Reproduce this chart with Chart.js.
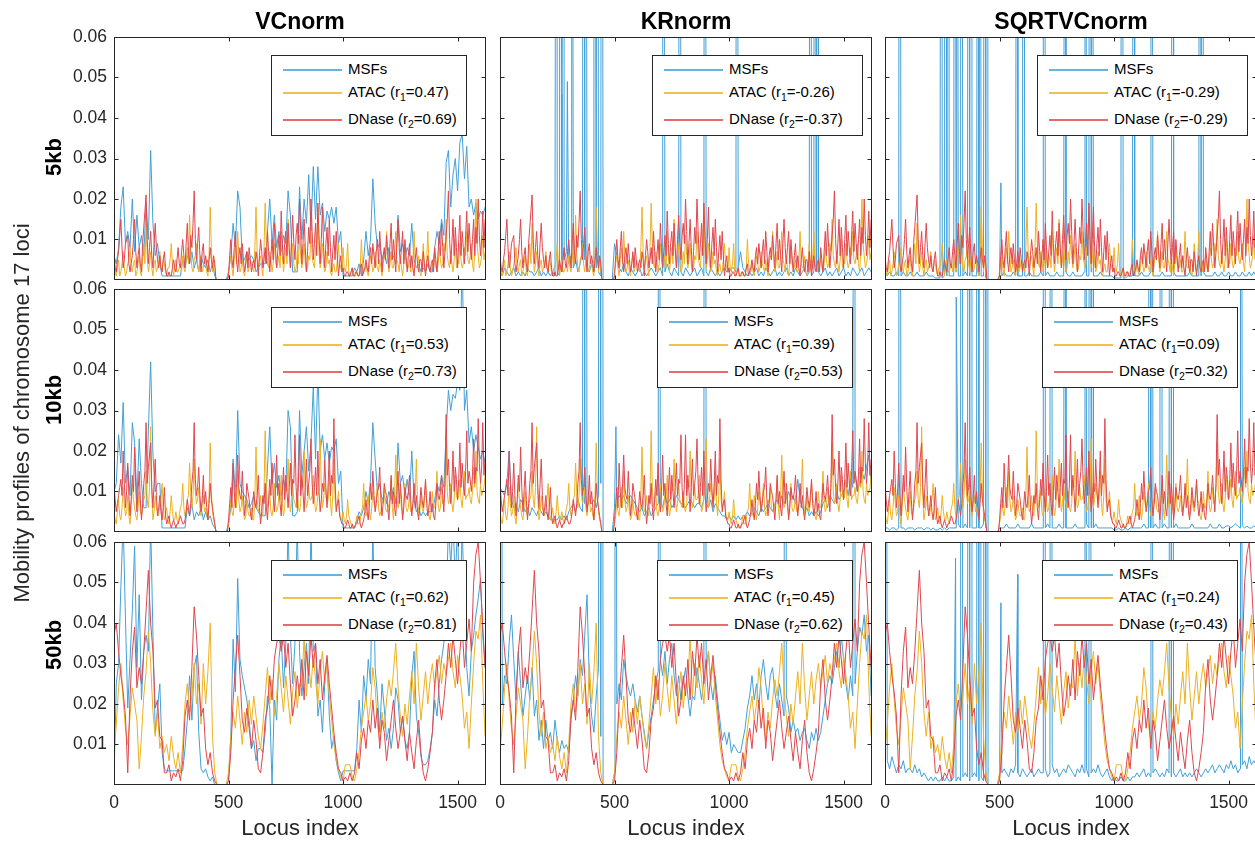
<!DOCTYPE html>
<html>
<head>
<meta charset="utf-8">
<script src="https://cdn.jsdelivr.net/npm/chart.js@4.4.1/dist/chart.umd.min.js"></script>
<style>
html, body { margin: 0; padding: 0; background: #fff; }
body { width: 1255px; height: 841px; overflow: hidden; position: relative;
  font-family: "Liberation Sans", Arial, Helvetica, sans-serif; color: #000; }
canvas { position: absolute; }
.txt { position: absolute; white-space: nowrap; line-height: 1; }
.title { font-weight: bold; font-size: 23px; text-align: center; width: 300px; }
.xlab { font-size: 22px; text-align: center; width: 300px; color: #262626; }
.rot { transform: translate(-50%, -50%) rotate(-90deg); }
.rowlab { font-weight: bold; font-size: 22px; }
.ylab { font-size: 22px; color: #262626; }
.lg { position: absolute; background: #fff; border: 1px solid #262626; box-sizing: border-box; }
.lg .ln { position: absolute; left: 11px; width: 59px; height: 2px; opacity: 0.8; }
.lg .tx { position: absolute; left: 76px; font-size: 15px; line-height: 18px; white-space: nowrap; }
.lg sub { font-size: 10.5px; vertical-align: -4px; line-height: 0; }
</style>
</head>
<body>
<script>
// locus index grid: main points every 10 loci, extra points at 5, 15, 25, ...
// all values below are in units of 1e-3
const loci = Array.from({ length: 163 }, (_, i) => i * 10);
const lociMid = Array.from({ length: 162 }, (_, j) => 5 + j * 10);
const xTickValues = [0, 500, 1000, 1500];
const yTickValues = [0.01, 0.02, 0.03, 0.04, 0.05, 0.06];
const normNames = ["VCnorm", "KRnorm", "SQRTVCnorm"];
const resNames = ["5kb", "10kb", "50kb"];
const r1Values = [[0.47, -0.26, -0.29], [0.53, 0.39, 0.09], [0.62, 0.45, 0.24]];
const r2Values = [[0.69, -0.37, -0.29], [0.73, 0.53, 0.32], [0.81, 0.62, 0.43]];

const atac5kb = [3,1,5,2,7,1,4,8,2,5, 2,6,1,9,14,2,7,1,5,3, 7,2,4,1,3,9,1,5,2,4, 6,2,8,16,3,5,9,2,6,3,
  4,1,18,2,3,0,0,0,0,0, 2,6,1,8,12,2,5,1,6,3, 4,2,18,3,6,1,19,4,7,2, 9,3,6,12,2,8,15,3,9,2,
  7,11,3,9,2,6,12,4,8,18, 3,9,2,7,5,1,4,2,9,3, 8,2,9,1,3,1,2,1,10,2, 4,1,6,2,7,3,5,1,6,12,
  2,7,3,12,4,6,1,8,3,5, 2,12,3,6,1,9,2,12,3,4, 6,2,8,3,9,15,4,7,2,10, 5,9,3,8,12,4,9,2,20,6, 4,11,7];
const atac5kbMid = [2,3,1,4,3,2,5,3,4,1, 4,2,5,4,6,4,3,4,2,4, 3,5,2,3,5,4,3,2,3,2, 3,5,4,7,2,6,4,5,2,5,
  2,6,8,5,0,0,0,0,0,0, 4,3,5,4,6,3,2,4,2,5, 3,8,7,5,3,8,9,3,5,4, 5,4,3,6,5,4,7,5,4,3,
  4,6,5,4,3,5,6,3,9,7, 5,4,3,4,2,3,2,5,4,2, 3,4,2,2,1,1,1,3,4,2, 2,3,4,3,4,2,3,4,5,5,
  4,3,6,5,2,3,4,4,3,2, 5,4,3,2,4,3,5,4,2,3, 3,4,5,4,7,6,3,4,5,3, 4,5,4,6,5,6,4,7,9,3, 6,5];
const dnase5kb = [6,2,7,15,3,9,11,2,6,15, 3,8,2,13,21,4,12,3,14,5, 6,2,7,1,2,1,5,2,8,3, 10,3,14,4,8,22,5,13,2,9,
  6,2,8,3,4,0,0,0,0,0, 1,10,3,12,2,8,9,2,7,8, 2,5,7,1,10,3,8,12,2,10, 14,3,11,17,4,12,14,3,16,5,
  14,20,4,15,2,13,20,5,14,19, 4,18,3,13,15,2,11,12,1,6, 3,1,2,1,3,1,2,1,4,2, 5,2,8,9,3,10,12,2,8,11,
  3,14,10,2,15,4,12,10,2,9, 6,1,8,2,5,7,1,6,2,5, 8,2,12,14,3,11,22,4,15,13, 3,16,12,4,17,14,5,15,13,20, 6,17,15];
const dnase5kbMid = [3,5,11,8,5,10,4,4,10,7, 6,4,9,17,10,8,6,9,8,3, 3,5,3,1,1,3,3,5,4,7, 6,9,7,11,14,10,9,6,7,4,
  4,5,5,6,0,0,0,0,0,0, 6,5,8,5,6,4,5,4,3,5, 4,3,5,6,7,5,4,7,6,5, 8,7,6,9,9,6,8,10,9,11,
  9,12,9,8,7,9,12,9,6,11, 10,8,9,6,8,7,5,6,4,2, 1,2,1,2,1,2,1,3,1,3, 3,6,4,6,7,4,7,6,5,7,
  9,5,6,9,8,8,4,6,6,3, 3,5,4,5,2,4,4,3,4,2, 5,7,6,8,7,15,10,9,6,8, 10,6,8,11,7,9,10,6,9,11, 10,8];
const atac10kb = [5,2,8,3,11,4,9,2,12,6, 3,10,4,8,15,6,26,3,9,5, 7,12,3,6,2,9,3,5,2,6, 12,4,8,17,6,18,7,11,4,9,
  6,3,22,5,2,0,0,0,0,0, 2,8,4,11,15,5,9,3,8,4, 6,3,21,5,9,4,25,6,10,4, 12,5,9,14,4,11,18,5,12,7,
  10,5,13,20,6,11,8,14,5,9, 23,6,12,7,15,4,18,6,10,3, 5,2,8,3,2,1,4,2,5,12, 4,9,3,10,6,12,4,8,11,5,
  7,13,3,19,6,10,4,12,5,9, 6,11,18,4,9,5,12,7,3,10, 6,15,5,11,8,22,7,12,5,14, 8,13,6,15,9,11,7,16,20,8, 12,10,14];
const atac10kbMid = [3,5,4,6,7,5,4,6,8,4, 6,5,6,9,8,11,9,5,6,4, 8,6,4,3,5,5,3,3,4,7, 6,5,9,10,9,10,8,6,7,5,
  4,9,10,3,0,0,0,0,0,0, 4,5,7,6,8,6,5,4,5,4, 3,9,8,6,5,10,11,7,5,6, 7,6,8,7,6,10,9,7,8,6,
  6,7,11,9,7,8,9,8,6,10, 11,8,9,8,7,9,8,7,5,3, 3,4,4,2,1,2,2,3,6,6, 5,5,6,7,8,6,5,7,6,5,
  8,6,9,9,7,6,7,6,6,5, 7,9,8,5,6,7,8,4,5,6, 8,7,6,7,11,10,8,7,8,9, 9,8,10,8,9,8,10,11,10,7, 9,11];
const dnase10kb = [12,5,9,13,20,6,17,4,14,21, 5,15,3,12,27,16,22,6,18,4, 9,3,11,2,4,1,3,1,2,4, 2,3,8,4,12,27,9,16,5,14,
  10,3,12,6,2,0,0,0,0,0, 3,11,17,6,19,9,15,4,12,8, 3,10,6,14,2,9,12,3,13,17, 5,19,12,4,16,14,6,17,13,24,
  6,24,14,5,18,12,23,7,16,20, 5,12,18,6,20,14,28,5,8,3, 2,1,3,1,2,1,2,4,1,3, 8,3,12,15,5,10,16,4,12,9,
  3,14,10,4,15,12,3,11,8,14, 4,12,9,3,11,6,13,4,10,7, 3,12,8,14,5,29,18,7,20,16, 8,22,17,9,25,15,10,23,16,28, 12,27,18];
const dnase10kbMid = [8,7,11,9,12,10,9,8,10,11, 10,8,7,15,12,19,11,12,9,6, 5,6,4,3,2,2,2,2,3,3, 2,5,6,7,15,13,11,9,8,7,
  6,7,8,4,0,0,0,0,0,0, 7,6,10,12,11,8,9,7,10,5, 6,7,9,6,5,7,6,8,9,9, 10,9,7,10,8,10,11,9,12,11,
  12,9,10,11,9,15,12,11,9,10, 8,10,11,12,9,12,13,7,4,2, 1,2,2,1,1,2,3,2,2,5, 5,7,8,9,7,11,8,7,10,6,
  8,7,6,9,7,8,6,9,10,8, 7,6,5,7,8,9,7,6,5,4, 7,9,10,9,12,14,11,12,10,13, 13,11,12,15,12,13,14,12,15,17, 16,14];
const atac50kb = [8,15,24,30,21,14,10,17,24,20, 16,4,12,22,28,38,30,18,12,18, 9,12,8,10,6,12,7,4,8,3, 10,20,25,18,22,30,20,25,15,30,
  20,28,40,12,3,0,0,0,0,0, 3,12,18,14,22,16,10,18,13,21, 15,22,17,12,9,15,22,29,20,26, 17,22,30,24,18,27,21,15,23,28,
  19,25,24,37,22,30,24,32,26,20, 28,33,25,30,22,16,10,6,4,2, 1,5,5,5,2,1,4,8,14,18, 22,16,20,29,24,15,11,18,14,21,
  26,22,28,35,24,17,12,20,15,22, 28,20,35,24,16,22,28,20,26,30, 24,28,32,25,30,27,31,35,28,24, 32,27,22,14,18,9,20,30,38,36, 42,25,12];
const dnase50kb = [37,40,33,27,23,17,3,22,33,39, 24,29,25,33,43,53,40,33,19,21, 12,11,3,3,5,1,3,2,4,1, 6,17,21,16,29,44,37,27,17,19,
  9,5,8,3,1,0,0,0,0,0, 1,8,21,29,37,27,16,13,19,14, 9,16,11,4,3,8,16,19,27,21, 31,35,37,33,37,29,35,25,17,21,
  27,22,31,21,33,27,37,29,35,25, 31,21,27,32,25,19,13,8,4,3, 1,2,1,3,1,3,8,4,11,14, 9,16,13,21,14,19,9,16,13,6,
  11,16,21,14,9,13,17,11,6,13, 8,4,11,16,8,3,1,4,8,13, 25,31,21,16,21,27,35,29,37,31, 25,33,39,29,35,41,33,50,57,60, 50,39,29];

const msfVC5kb = [6,4,8,18,23,9,12,8,20,7, 16,8,11,6,19,10,32,14,6,9, 4,1,1,1,1,1,1,1,1,1, 5,3,6,4,7,3,5,2,6,4,
  3,5,2,4,1,0,0,0,0,0, 2,6,14,8,22,18,5,5,7,5, 6,5,2,3,4,4,4,12,20,9, 16,8,12,7,11,9,22,16,2,2,
  2,23,10,20,14,26,12,28,15,28, 16,19,12,17,15,18,14,18,9,12, 1,1,1,1,1,3,2,4,1,5, 12,6,10,25,14,8,9,5,7,4,
  8,5,6,4,16,7,9,5,8,6, 14,5,3,4,2,3,2,4,2,2, 8,12,9,15,11,29,32,18,26,30, 22,34,36,25,33,18,20,16,19,15, 17,16,18];
const msfKR5kb = [2,1,3,2,1,2,3,1,2,1, 2,1,3,2,2,1,2,3,1,2, 1,2,1,2,1,2,1,2,5,7, 4,6,3,5,2,4,7,5,3,2,
  4,2,3,2,1,0,0,0,0,0, 9,6,3,2,4,2,1,3,2,1, 2,3,1,2,1,2,3,2,1,2, 3,1,2,4,2,1,3,2,1,2,
  1,3,2,1,2,3,1,2,3,1, 2,1,3,2,1,2,1,2,3,2, 2,3,3,2,3,7,3,2,1,2, 1,2,3,1,2,1,3,2,1,2,
  3,1,2,1,2,3,1,2,1,3, 2,1,2,3,1,2,1,2,3,2, 1,2,3,1,2,1,2,3,1,2, 3,1,2,1,3,2,1,2,3,1, 2,3,2];
const msfSQ5kb = [2,1,2,1,1,2,1,1,2,1, 1,2,1,1,2,1,1,1,2,1, 1,1,0.5,0.5,0.5,0.5,1,1,1,1, 1,2,1,1,1,2,1,1,1,1,
  1,1,1,1,0.5,0,0,0,0,0, 1,1,2,1,1,1,2,1,1,1, 1,1,1,2,1,1,1,1,2,1, 1,2,1,1,1,2,1,1,1,2,
  1,1,2,1,1,1,1,2,1,1, 2,1,1,1,2,1,1,1,1,1, 0.5,0.5,0.5,0.5,0.5,0.5,1,1,1,1, 1,1,2,1,1,1,2,1,1,1,
  1,2,1,1,1,1,2,1,1,1, 1,1,1,2,1,1,1,1,1,2, 1,1,1,1,2,1,1,2,1,1, 2,1,1,2,1,1,2,1,1,2, 1,2,1];
const msfVC10kb = [10,12,24,17,32,12,16,9,27,22, 8,23,12,6,6,25,42,19,10,12, 12,1,1,1,1,1,1,1,1,1, 1,1,6,4,7,3,5,4,6,3,
  5,3,4,2,1,0,0,0,0,0, 2,6,18,9,30,12,10,9,8,6, 7,9,6,5,4,4,4,16,26,12, 17,11,14,9,13,10,30,26,4,4,
  5,30,14,20,26,15,22,36,18,40, 20,24,18,22,17,21,20,23,12,15, 1,1,1,1,1,1,3,5,4,6, 10,7,13,27,18,10,12,8,9,7,
  10,8,11,7,22,12,14,9,13,8, 20,8,5,6,4,5,4,5,5,5, 8,12,10,14,11,25,35,30,34,33, 37,35,70,30,35,22,26,20,24,21, 18,20,17];
const msfKR10kb = [11,10,9,12,20,8,6,7,5,8, 7,5,6,4,6,5,4,6,5,4, 5,4,3,3,3,3,4,3,4,3, 5,6,7,5,8,6,5,7,6,8,
  7,8,6,9,12,0,0,0,0,0, 6,8,9,8,9,7,8,9,8,7, 6,5,6,4,5,6,4,5,6,7, 8,6,9,7,8,6,7,9,8,7,
  7,6,7,8,7,6,7,7,6,8, 7,6,8,5,7,6,5,4,4,3, 4,3,4,3,4,3,4,4,5,4, 5,6,5,4,6,5,6,7,6,5,
  7,8,6,9,7,8,10,8,9,7, 13,8,6,5,6,4,5,4,5,4, 5,7,8,6,9,8,7,10,8,9, 10,12,9,13,11,14,10,12,15,13, 16,19,12];
const msfSQ10kb = [1,1,0.5,1,1,0.5,1,1,1,0.5, 1,1,1,0.5,1,1,1,0.5,1,1, 0.5,1,0.5,0.5,1,0.5,1,0.5,1,1, 1,1,2,1,1,2,1,1,1,1,
  1,1,1,2,1,0,0,0,0,0, 1,1,1,2,1,1,1,1,2,1, 1,1,1,1,2,1,1,1,1,1, 1,2,1,1,1,1,2,1,1,1,
  1,1,1,2,1,1,1,1,2,1, 1,1,2,1,1,1,1,1,1,1, 0.5,0.5,1,0.5,0.5,1,0.5,1,1,1, 1,1,1,2,1,1,1,1,2,1,
  1,1,2,1,1,1,1,2,1,1, 1,1,1,1,2,1,1,1,1,1, 1,1,2,1,1,1,2,1,1,1.5, 1.5,1,1.5,2,1.5,1,1.5,1,1.5,1, 1,1.5,1];
const msfVC50kb = [1,25,30,49,65,41,19,31,43,59, 29,47,21,33,37,33,65,37,13,19, 25,8,4,3.5,3.5,3.5,3.5,3.5,3.5,3.5, 3.5,9,16,27,16,29,32,13,4,3,
  4,2,1,2,0,0,0,0,0,0, 1,12,36,23,51,31,27,24,21,16, 9,11,6,9,9,8,13,22,19,0, 21,16,31,37,24,35,65,37,25,35,
  65,33,22,29,35,25,65,33,35,17, 21,13,25,31,17,9,12,6,3,1, 3.5,3.5,3.5,3.5,3.5,3.5,9,21,13,27, 21,31,25,65,29,22,13,25,19,11,
  14,9,14,24,21,13,17,11,9,13, 27,33,17,13,7,5,5,6,9,13, 21,17,25,31,35,42,65,54,65,50, 65,37,65,42,29,22,33,37,42,46, 51,37,29];
const msfKR50kb = [5,20,27,25,35,42,31,21,33,25, 17,22,27,21,29,17,21,11,16,9, 16,11,13,9,16,11,8,11,9,10, 8,16,21,27,22,31,27,37,47,25,
  17,13,22,29,12,0,0,0,0,0, 3,20,25,21,31,27,24,22,25,21, 18,22,17,13,9,13,17,21,25,28, 31,27,33,25,31,35,27,22,27,21,
  25,29,22,17,22,21,29,25,21,26, 29,33,25,21,27,21,16,11,13,10, 13,8,10,9,8,8,11,14,19,22, 27,21,25,19,27,31,25,21,27,29,
  23,19,25,21,17,22,19,13,16,13, 14,11,13,14,11,9,13,11,14,11, 13,17,21,25,27,25,29,33,29,37, 31,25,21,27,22,25,33,39,37,42, 33,37,22];
const msfSQ50kb = [5,6,4,7,5, 3,5,4,6,3,4, 4,3,5,3,4,2,3, 2,1,2,1,2,1,1,2,1,2,1,1,2,1,2,1, 2,3,2,1,2,3,2,1,2,1,1, 0,0,0,0,0,
  2,3,4,3,2,4,3,5,3,2,4,3,2,3,4,2,3,4,3, 3,4,2,3,5,3,4,2,3,4,3,5,4,3,2,4,3,5,3,4,2,3,4,3,5,3,2,3,4,
  2,1,2,1,1,2,1,1,2,1,2,2, 3,2,3,4,2,3,2,3,4,3,2,3,2,4,3,2,3,2,3,4,2,3,2,3,2,3,4,3,2,3,4,3,
  4,5,3,4,5,4,3,5,4,6,4,5,3,4, 5,6,4,7,5,6,5];

// single-locus MSF spikes: [locus index, value]
const spikesKR5kb = [[247,300],[262,300],[269,46],[279,300],[294,49],[313,300],[366,300],[372,300],[410,300],[425,300],
  [444,300],[713,300],[785,300],[894,300],[1033,300],[1355,300],[1374,300],[1382,300],[1389,300]];
const spikesSQ5kb = [[63,300],[247,300],[262,300],[279,300],[305,300],[313,300],[332,300],[366,300],[372,300],[378,300],
  [407,300],[412,300],[436,300],[444,300],[506,24],[579,300],[605,300],[691,300],[695,300],[788,300],[873,300],[894,300],
  [902,300],[1033,300],[1088,300],[1161,300],[1258,300],[1374,300],[1386,300]];
const spikesKR10kb = [[366,300],[372,300],[433,300],[441,300],[446,300],[506,26],[691,300],[894,300],[1549,300]];
const spikesSQ10kb = [[63,300],[311,58],[332,300],[366,300],[372,300],[378,300],[400,300],[407,300],[436,300],[446,300],
  [691,300],[698,300],[724,300],[788,300],[873,300],[894,300],[902,300],[909,300],[1158,300],[1163,300],[1204,300],
  [1246,300],[1255,300],[1552,300]];
const spikesKR50kb = [[2,300],[436,300],[446,300],[502,300],[691,300],[894,300],[1246,300],[1549,300]];
const spikesSQ50kb = [[1,300],[308,56],[332,300],[366,300],[372,300],[378,300],[404,300],[412,300],[436,300],[446,300],
  [506,45],[579,52],[691,300],[698,300],[724,300],[873,300],[894,300],[1161,300],[1246,300],[1255,300],[1552,300]];

const atacByRes = [[atac5kb, atac5kbMid], [atac10kb, atac10kbMid], [atac50kb, null]];
const dnaseByRes = [[dnase5kb, dnase5kbMid], [dnase10kb, dnase10kbMid], [dnase50kb, null]];
const msfByPanel = [[msfVC5kb, msfKR5kb, msfSQ5kb], [msfVC10kb, msfKR10kb, msfSQ10kb], [msfVC50kb, msfKR50kb, msfSQ50kb]];
const spikesByPanel = [[null, spikesKR5kb, spikesSQ5kb], [null, spikesKR10kb, spikesSQ10kb], [null, spikesKR50kb, spikesSQ50kb]];

const BLUE = "#42A0D8", YELLOW = "#EDB120", RED = "#E0464E", AXIS = "#262626";
const FONT = '"Liberation Sans", Arial, Helvetica, sans-serif';

function points(vals, mids, spikes) {
  const out = vals.map((v, i) => ({ x: loci[i], y: v / 1000 }));
  (mids || []).forEach((v, j) => out.push({ x: lociMid[j], y: v / 1000 }));
  (spikes || []).forEach(([x, v]) => out.push({ x: x, y: v / 1000 }));
  return out.sort((a, b) => a.x - b.x);
}

// box with inward tick marks, like the original axes
const boxPlugin = {
  id: "box",
  afterDatasetsDraw(chart) {
    const { ctx, chartArea: a, scales } = chart;
    const l = Math.round(a.left) + 0.5, r = Math.round(a.right) - 0.5;
    const t = Math.round(a.top) + 0.5, b = Math.round(a.bottom) - 0.5;
    ctx.save();
    ctx.strokeStyle = AXIS;
    ctx.lineWidth = 1;
    ctx.strokeRect(l, t, r - l, b - t);
    ctx.beginPath();
    xTickValues.forEach((v) => {
      const px = Math.round(scales.x.getPixelForValue(v)) + 0.5;
      ctx.moveTo(px, b); ctx.lineTo(px, b - 4);
      ctx.moveTo(px, t); ctx.lineTo(px, t + 4);
    });
    yTickValues.forEach((v) => {
      const py = Math.round(scales.y.getPixelForValue(v)) + 0.5;
      ctx.moveTo(l, py); ctx.lineTo(l + 4, py);
      ctx.moveTo(r, py); ctx.lineTo(r - 4, py);
    });
    ctx.stroke();
    ctx.restore();
  },
};

const colLeft = [114, 500, 885], colW = 372;
const rowTop = [37, 289, 542], rowH = 243;
const rowLabelY = [157, 400, 645];

function addText(cls, html, style) {
  const d = document.createElement("div");
  d.className = "txt " + cls;
  d.innerHTML = html;
  Object.assign(d.style, style);
  document.body.appendChild(d);
  return d;
}

for (let r = 0; r < 3; r++) {
  for (let c = 0; c < 3; c++) {
    const showY = c === 0, showX = r === 2;
    const padL = showY ? 60 : 20, padB = showX ? 40 : 0, padT = 20, padR = 20;
    const L = colLeft[c], T = rowTop[r];
    const cv = document.createElement("canvas");
    cv.width = colW + padL + padR;
    cv.height = rowH + padT + (showX ? padB : 20);
    cv.style.left = (L - padL) + "px";
    cv.style.top = (T - padT) + "px";
    document.body.appendChild(cv);

    new Chart(cv, {
      type: "line",
      data: {
        datasets: [
          { label: "MSFs", data: points(msfByPanel[r][c], null, spikesByPanel[r][c]), borderColor: BLUE, order: 3 },
          { label: "ATAC", data: points(atacByRes[r][0], atacByRes[r][1]), borderColor: YELLOW, order: 2 },
          { label: "DNase", data: points(dnaseByRes[r][0], dnaseByRes[r][1]), borderColor: RED, order: 1 },
        ],
      },
      options: {
        responsive: false,
        animation: false,
        events: [],
        devicePixelRatio: 1,
        layout: { padding: { top: padT, right: padR, left: 0, bottom: showX ? 0 : 20 } },
        elements: { point: { radius: 0 }, line: { borderWidth: 1, tension: 0 } },
        plugins: { legend: { display: false }, tooltip: { enabled: false } },
        scales: {
          x: {
            type: "linear", min: 0, max: 1624,
            grid: { display: false, drawTicks: false },
            border: { display: false },
            ticks: { display: showX, padding: 8, maxRotation: 0, color: AXIS,
              font: { family: FONT, size: 17.5 }, callback: (v) => String(v) },
            afterBuildTicks: (s) => { s.ticks = xTickValues.map((v) => ({ value: v })); },
            afterFit: (s) => { s.height = padB; },
          },
          y: {
            min: 0, max: 0.06,
            grid: { display: false, drawTicks: false },
            border: { display: false },
            ticks: { display: showY, padding: 7, color: AXIS,
              font: { family: FONT, size: 17.5 }, callback: (v) => v.toFixed(2) },
            afterBuildTicks: (s) => { s.ticks = yTickValues.map((v) => ({ value: v })); },
            afterFit: (s) => { s.width = padL; },
          },
        },
      },
      plugins: [boxPlugin],
    });

    // legend box
    const wide = r1Values[r][c] < 0 || r2Values[r][c] < 0;
    const lw = wide ? 211 : 196;
    const lg = document.createElement("div");
    lg.className = "lg";
    Object.assign(lg.style, {
      left: (L + colW - (wide ? 9 : 19) - lw) + "px",
      top: (T + 18) + "px", width: lw + "px", height: "81px",
    });
    const rows = [
      [BLUE, "MSFs", 14],
      [YELLOW, "ATAC (r<sub>1</sub>=" + r1Values[r][c].toFixed(2) + ")", 37],
      [RED, "DNase (r<sub>2</sub>=" + r2Values[r][c].toFixed(2) + ")", 64],
    ];
    rows.forEach(([col, label, y]) => {
      const ln = document.createElement("div");
      ln.className = "ln";
      ln.style.background = col;
      ln.style.top = (y - 1) + "px";
      lg.appendChild(ln);
      const tx = document.createElement("div");
      tx.className = "tx";
      tx.style.top = (y - 10) + "px";
      tx.innerHTML = label;
      lg.appendChild(tx);
    });
    document.body.appendChild(lg);
  }
}

// titles, axis labels
for (let c = 0; c < 3; c++) {
  const cx = colLeft[c] + colW / 2;
  addText("title", normNames[c], { left: (cx - 150) + "px", top: "9.5px" });
  addText("xlab", "Locus index", { left: (cx - 150) + "px", top: "817px" });
}
for (let r = 0; r < 3; r++) {
  addText("rowlab rot", resNames[r], { left: "54px", top: rowLabelY[r] + "px" });
}
addText("ylab rot", "Mobility profiles of chromosome 17 loci", { left: "22px", top: "413px" });
</script>
</body>
</html>
